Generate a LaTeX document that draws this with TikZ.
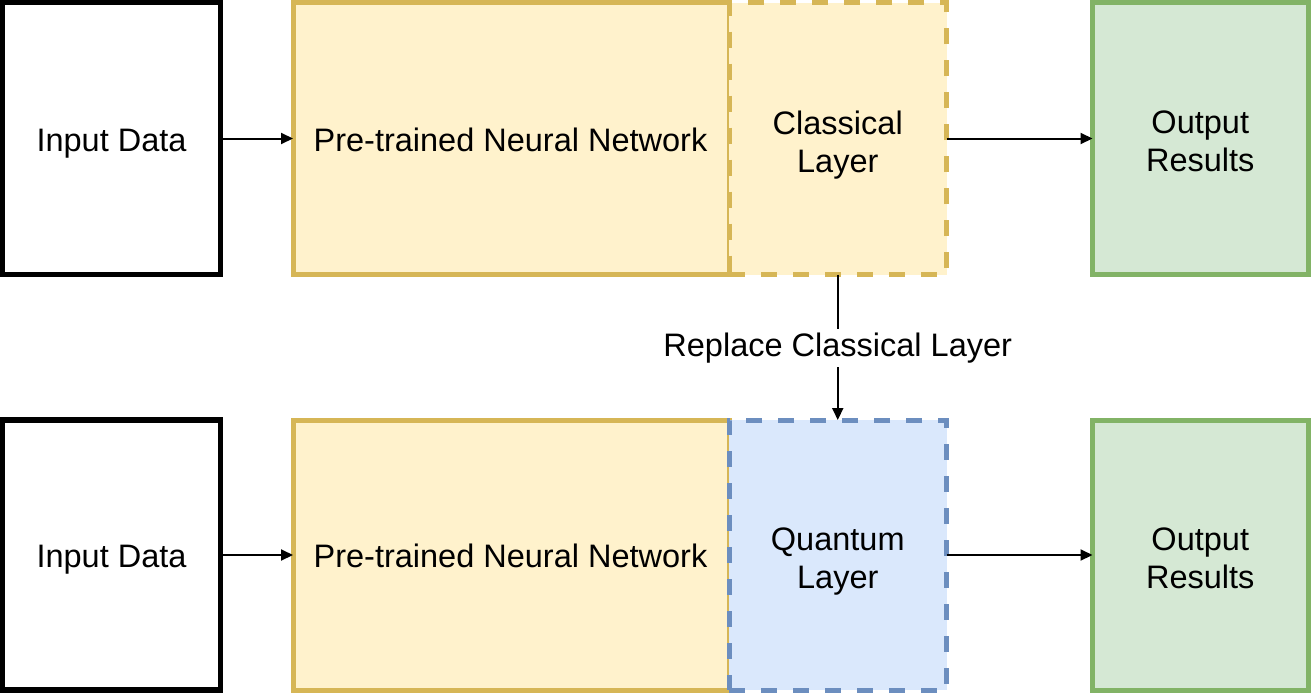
\documentclass[tikz,border=0pt]{standalone}
\usepackage{fontspec}
\setmainfont{Liberation Sans}
\usetikzlibrary{arrows.meta}
\definecolor{ystroke}{HTML}{D6B656}
\definecolor{yfill}{HTML}{FFF2CC}
\definecolor{gstroke}{HTML}{82B366}
\definecolor{gfill}{HTML}{D5E8D4}
\definecolor{bstroke}{HTML}{6C8EBF}
\definecolor{bfill}{HTML}{DAE8FC}
\tikzset{
  box/.style={rectangle, inner sep=0pt, outer sep=0pt, line width=5pt},
  txt/.style={inner sep=0pt, align=center, font=\fontsize{32.5}{38}\selectfont},
  inbox/.style={box, draw=black, fill=white, line width=5.5pt},
  ybox/.style={box, draw=ystroke, fill=yfill},
  ydash/.style={box, draw=ystroke, fill=yfill, dash pattern=on 16pt off 16pt},
  qbox/.style={box, draw=bstroke, fill=bfill, dash pattern=on 16pt off 16pt},
  gbox/.style={box, draw=gstroke, fill=gfill},
  conn/.style={line width=2pt, -{Triangle[length=12pt,width=11pt]}},
  lbl/.style={fill=white, inner sep=4pt, font=\fontsize{32.5}{38}\selectfont}
}
\begin{document}
\begin{tikzpicture}[x=1pt,y=-1pt]
\useasboundingbox (0,0) rectangle (1314,696);
% top row
\node[inbox, minimum width=218pt, minimum height=272pt] (in1) at (111.5,138.5) {};
\node[ybox, minimum width=436pt, minimum height=272pt] (pt1) at (511,138.5) {};
\node[ydash, minimum width=217.5pt, minimum height=272pt] (cl) at (837.75,138.5) {};
\node[gbox, minimum width=215.5pt, minimum height=272pt] (out1) at (1200.25,138.5) {};
\node[txt] (in1t) at (111.5,143.5) {Input Data};
\node[txt] (pt1t) at (510.5,140) {Pre-trained Neural Network};
\node[txt] (clt) at (837.75,145) {Classical\\Layer};
\node[txt] (out1t) at (1200.25,141.5) {Output\\Results};
% bottom row
\node[inbox, minimum width=218pt, minimum height=270pt] (in2) at (111.5,555) {};
\node[ybox, minimum width=436pt, minimum height=270pt] (pt2) at (511,555) {};
\node[qbox, minimum width=217.5pt, minimum height=270pt] (ql) at (837.75,555) {};
\node[gbox, minimum width=215.5pt, minimum height=270pt] (out2) at (1200.25,555) {};
\node[txt] (in2t) at (111.5,560) {Input Data};
\node[txt] (pt2t) at (510.5,556) {Pre-trained Neural Network};
\node[txt] (qlt) at (837.75,562) {Quantum\\Layer};
\node[txt] (out2t) at (1200.25,558) {Output\\Results};
% connectors
\draw[conn] (in1.east) -- (pt1.west);
\draw[conn] (cl.east) -- (out1.west);
\draw[conn] (in2.east) -- (pt2.west);
\draw[conn] (ql.east) -- (out2.west);
\draw[conn] (cl.south) -- (ql.north);
\node[lbl] (rep) at (837.75,348) {Replace Classical Layer};
\end{tikzpicture}
\end{document}
